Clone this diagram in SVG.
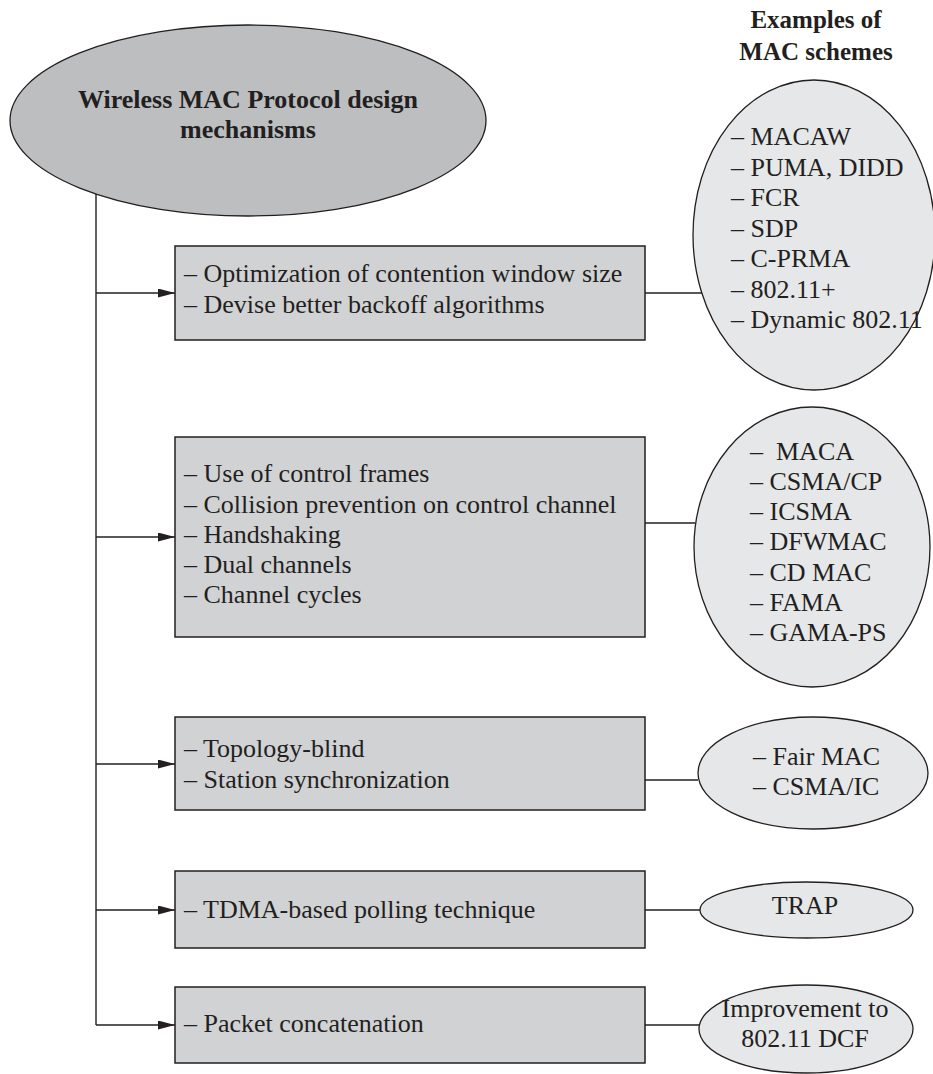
<svg xmlns="http://www.w3.org/2000/svg" width="933" height="1074" viewBox="0 0 933 1074">
  <style>
    .t { font-family: "Liberation Serif", "Times New Roman", serif; font-size: 26px; fill: #231f20; }
    .b { font-family: "Liberation Serif", "Times New Roman", serif; font-weight: bold; fill: #231f20; }
    .pre { white-space: pre; }
    .box { fill: #d1d2d4; stroke: #231f20; stroke-width: 1.5; }
    .ex { fill: #e6e7e8; stroke: #231f20; stroke-width: 1.3; }
    .root { fill: #bcbec0; stroke: #231f20; stroke-width: 1.3; }
    .wire { fill: none; stroke: #231f20; stroke-width: 1.4; }
  </style>
  <defs>
    <marker id="arrow" viewBox="0 0 17 9" refX="17" refY="4.5" markerWidth="17" markerHeight="9" markerUnits="userSpaceOnUse" orient="auto">
      <path d="M0,0 L17,4.5 L0,9 Z" fill="#231f20"/>
    </marker>
  </defs>
  <rect width="933" height="1074" fill="#ffffff"/>

  <!-- column header -->
  <g id="header">
    <text class="b" font-size="25" x="816" y="28" text-anchor="middle">Examples of</text>
    <text class="b" font-size="25" x="816" y="60" text-anchor="middle">MAC schemes</text>
  </g>

  <!-- connectors -->
  <g id="connectors" class="wire">
    <line x1="96" y1="194" x2="96" y2="1025"/>
    <line x1="96" y1="293" x2="175" y2="293" marker-end="url(#arrow)"/>
    <line x1="96" y1="537" x2="175" y2="537" marker-end="url(#arrow)"/>
    <line x1="96" y1="764" x2="175" y2="764" marker-end="url(#arrow)"/>
    <line x1="96" y1="910" x2="175" y2="910" marker-end="url(#arrow)"/>
    <line x1="96" y1="1025" x2="175" y2="1025" marker-end="url(#arrow)"/>
    <line x1="645" y1="293" x2="702" y2="293"/>
    <line x1="645" y1="523" x2="695" y2="523"/>
    <line x1="645" y1="780" x2="698" y2="780"/>
    <line x1="645" y1="910" x2="700" y2="910"/>
    <line x1="645" y1="1025" x2="699" y2="1025"/>
  </g>

  <!-- root -->
  <g id="root">
    <ellipse class="root" cx="248" cy="120.5" rx="238" ry="95.5"/>
    <text class="b" font-size="26" x="248" y="108" text-anchor="middle">Wireless MAC Protocol design</text>
    <text class="b" font-size="26" x="248" y="138" text-anchor="middle">mechanisms</text>
  </g>

  <!-- mechanism boxes -->
  <g id="box-contention">
    <rect class="box" x="175" y="246" width="470" height="94"/>
    <text class="t" x="184" y="282">– Optimization of contention window size</text>
    <text class="t" x="184" y="313">– Devise better backoff algorithms</text>
  </g>
  <g id="box-control">
    <rect class="box" x="175" y="437" width="470" height="200"/>
    <text class="t" x="184" y="482">– Use of control frames</text>
    <text class="t" x="184" y="513">– Collision prevention on control channel</text>
    <text class="t" x="184" y="543">– Handshaking</text>
    <text class="t" x="184" y="573">– Dual channels</text>
    <text class="t" x="184" y="603">– Channel cycles</text>
  </g>
  <g id="box-topology">
    <rect class="box" x="175" y="717" width="470" height="93"/>
    <text class="t" x="184" y="757">– Topology-blind</text>
    <text class="t" x="184" y="788">– Station synchronization</text>
  </g>
  <g id="box-tdma">
    <rect class="box" x="175" y="871" width="470" height="77"/>
    <text class="t" x="184" y="918">– TDMA-based polling technique</text>
  </g>
  <g id="box-concat">
    <rect class="box" x="175" y="987" width="470" height="76"/>
    <text class="t" x="184" y="1032">– Packet concatenation</text>
  </g>

  <!-- example scheme ellipses -->
  <g id="ex-contention">
    <ellipse class="ex" cx="814" cy="235" rx="121" ry="155"/>
    <text class="t" x="731" y="145">– MACAW</text>
    <text class="t" x="731" y="175.5">– PUMA, DIDD</text>
    <text class="t" x="731" y="206">– FCR</text>
    <text class="t" x="731" y="236.5">– SDP</text>
    <text class="t" x="731" y="267">– C-PRMA</text>
    <text class="t" x="731" y="297.5">– 802.11+</text>
    <text class="t" x="731" y="328">– Dynamic 802.11</text>
  </g>
  <g id="ex-control">
    <ellipse class="ex" cx="812" cy="547" rx="118" ry="140"/>
    <text class="t pre" x="750" y="460">–  MACA</text>
    <text class="t" x="750" y="490">– CSMA/CP</text>
    <text class="t" x="750" y="520">– ICSMA</text>
    <text class="t" x="750" y="550">– DFWMAC</text>
    <text class="t" x="750" y="581">– CD MAC</text>
    <text class="t" x="750" y="611">– FAMA</text>
    <text class="t" x="750" y="641">– GAMA-PS</text>
  </g>
  <g id="ex-topology">
    <ellipse class="ex" cx="813" cy="773" rx="115" ry="56"/>
    <text class="t" x="753" y="765">– Fair MAC</text>
    <text class="t" x="753" y="795">– CSMA/IC</text>
  </g>
  <g id="ex-tdma">
    <ellipse class="ex" cx="806.5" cy="910" rx="106.5" ry="28"/>
    <text class="t" x="805" y="914" text-anchor="middle">TRAP</text>
  </g>
  <g id="ex-concat">
    <ellipse class="ex" cx="806" cy="1029" rx="107" ry="44"/>
    <text class="t" x="805" y="1017" text-anchor="middle">Improvement to</text>
    <text class="t" x="805" y="1047" text-anchor="middle">802.11 DCF</text>
  </g>
</svg>
